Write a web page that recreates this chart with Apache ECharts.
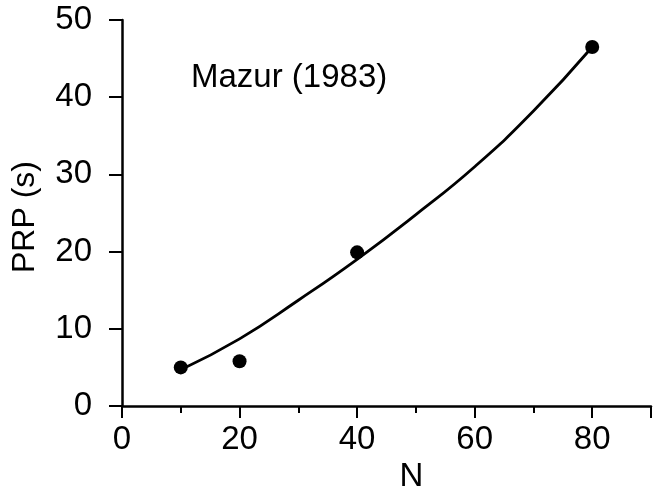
<!DOCTYPE html>
<html>
<head>
<meta charset="utf-8">
<script src="https://cdn.jsdelivr.net/npm/echarts@6/dist/echarts.min.js"></script>
<style>
html,body{margin:0;padding:0;background:#fff;overflow:hidden;}
#chart{width:660px;height:494px;}
</style>
</head>
<body>
<div id="chart"></div>
<script>
// Observed data points (N, PRP in s)
const pointN = [10, 20, 40, 80];
const pointPRP = [5.0, 5.8, 19.9, 46.5];
// Fitted curve
const curveN = [10, 20, 30, 40, 50, 60, 70, 80];
const curvePRP = [4.7, 8.7, 13.7, 19.0, 24.8, 31.0, 38.2, 46.5];
const titleText = 'Mazur (1983)';
const xName = 'N';
const yName = 'PRP (s)';

const font = 'Liberation Sans, Arial, Helvetica, sans-serif';
const ink = '#000';
const chart = echarts.init(document.getElementById('chart'));
chart.setOption({
  animation: false,
  backgroundColor: '#fff',
  grid: {left: 122, right: 9, top: 20, bottom: 88, containLabel: false, outerBoundsMode: 'none'},
  title: {
    text: titleText, left: 186, top: 56,
    textStyle: {fontFamily: font, fontSize: 33, fontWeight: 'normal', color: ink}
  },
  xAxis: {
    type: 'value', min: 0, max: 90, interval: 20,
    name: xName, nameLocation: 'middle', nameGap: 54,
    nameTextStyle: {fontFamily: font, fontSize: 33, color: ink, padding: [0, 0, 0, 50]},
    axisLine: {show: true, lineStyle: {color: ink, width: 2.5}},
    axisTick: {show: true, length: 12, lineStyle: {color: ink, width: 2}},
    minorTick: {show: true, splitNumber: 2, length: 7, lineStyle: {color: ink, width: 2}},
    axisLabel: {fontFamily: font, fontSize: 33, color: ink, margin: 17, showMaxLabel: false},
    splitLine: {show: false}
  },
  yAxis: {
    type: 'value', min: 0, max: 50, interval: 10,
    name: yName, nameLocation: 'middle', nameGap: 81, nameRotate: 90,
    nameTextStyle: {fontFamily: font, fontSize: 32, color: ink, padding: [0, 8, 0, 0]},
    axisLine: {show: true, lineStyle: {color: ink, width: 2.5}},
    axisTick: {show: true, length: 13, lineStyle: {color: ink, width: 2}},
    axisLabel: {fontFamily: font, fontSize: 33, color: ink, margin: 30},
    splitLine: {show: false}
  },
  series: [
    {
      type: 'line', data: curveN.map((n, i) => [n, curvePRP[i]]),
      smooth: true, showSymbol: false, symbol: 'none',
      lineStyle: {color: ink, width: 2.8}, z: 2
    },
    {
      type: 'scatter', data: pointN.map((n, i) => [n, pointPRP[i]]),
      symbol: 'circle', symbolSize: 14,
      itemStyle: {color: ink, opacity: 1}, z: 3
    }
  ]
});
</script>
</body>
</html>
